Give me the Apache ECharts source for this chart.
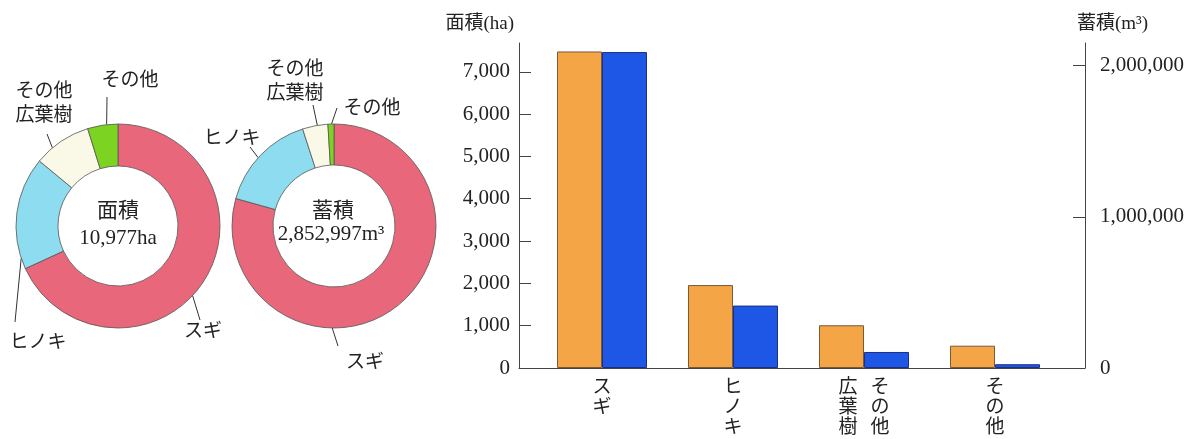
<!DOCTYPE html>
<html><head><meta charset="utf-8">
<script src="https://cdn.jsdelivr.net/npm/echarts@6/dist/echarts.min.js"></script>
<style>html,body{margin:0;padding:0;background:#fff}#c{width:1198px;height:439px}</style>
</head><body><div id="c"></div><script>
// ---- data ----
const categories = ['スギ', 'ヒノキ', 'その他広葉樹', 'その他'];
const areaHa = [7480, 1960, 1010, 527];
const volumeM3 = [2090000, 413000, 106000, 25000];
const areaTicks = [0, 1000, 2000, 3000, 4000, 5000, 6000, 7000];
const volumeTicks = [0, 1000000, 2000000];
const areaCenterText = ['面積', '10,977ha'];
const volumeCenterText = ['蓄積', '2,852,997m³'];
const axisTitles = ['面積(ha)', '蓄積(m³)'];

// ---- styles ----
const serif = "'Liberation Serif','Noto Sans CJK JP'";
const jp = "'Noto Sans CJK JP'";
const pieColors = ['#E8677A', '#8EDCEF', '#FAF8E6', '#7DD321'];
const barColors = ['#F4A545', '#1E56E6'];

function columnsOf(name) {
  if (name.length > 3 && name.indexOf('その他') === 0) return ['その他', name.slice(3)];
  return [name];
}
function verticalLabel(name) {
  const cols = columnsOf(name).slice().reverse(); // leftmost first
  const n = Math.max.apply(null, cols.map(c => c.length));
  const rows = [];
  for (let i = 0; i < n; i++) rows.push(cols.map(c => c[i] || '　').join('   '));
  return rows.join('\n');
}
function pieLabel(name) { return columnsOf(name).join('\n'); }

function pieLayout(cx, cy, R, cfg) {
  return function (p) {
    const c = cfg[p.dataIndex];
    const a = c.a * Math.PI / 180;
    const start = [cx + R * Math.sin(a), cy - R * Math.cos(a)];
    return { x: c.x, y: c.y, align: 'center', verticalAlign: 'middle',
             labelLinePoints: [start, c.end, c.end] };
  };
}
const pie1 = { c: [118, 226], r: [60, 102] };
const pie2 = { c: [334, 226], r: [61, 102] };
const pie1Labels = [
  { a: 133, end: [200, 320], x: 203, y: 330 },
  { a: 251.6, end: [15, 322], x: 38, y: 341 },
  { a: 320, end: [47, 134], x: 44, y: 102 },
  { a: 353.6, end: [107, 97], x: 130, y: 79 }
];
const pie2Labels = [
  { a: 181, end: [338, 346], x: 365, y: 361 },
  { a: 312, end: [250, 147], x: 232, y: 137 },
  { a: 350.6, end: [313, 105], x: 295, y: 80 },
  { a: 358.6, end: [337, 108], x: 372, y: 107 }
];

function pieSeries(values, p, labels) {
  return {
    type: 'pie', center: p.c, radius: p.r, startAngle: 90, clockwise: true,
    avoidLabelOverlap: false, silent: true,
    data: categories.map((n, i) => ({ name: n, value: values[i] })),
    itemStyle: { color: q => pieColors[q.dataIndex], borderColor: '#555', borderWidth: 0.8 },
    label: { show: true, position: 'outside', formatter: q => pieLabel(q.name),
             fontFamily: jp, fontSize: 19, lineHeight: 24, color: '#222' },
    labelLine: { show: true, length: 5, length2: 5, lineStyle: { color: '#333', width: 1 } },
    labelLayout: pieLayout(p.c[0], p.c[1], p.r[1], labels)
  };
}

const gridTop = 43, gridBottom = 71;
const areaMax = 7680, volMax = 2150000;
const axisLineStyle = { color: '#444', width: 1 };

const option = {
  animation: false,
  grid: [
    { left: 519, right: 113, top: gridTop, bottom: gridBottom },
    { left: 536.5, right: 137.5, top: gridTop, bottom: gridBottom }
  ],
  xAxis: [
    { gridIndex: 0, type: 'category', data: categories, axisLine: { lineStyle: axisLineStyle },
      axisTick: { show: false }, axisLabel: { show: false } },
    { gridIndex: 1, type: 'category', data: categories, axisLine: { show: false },
      axisTick: { show: false },
      axisLabel: { interval: 0, margin: 8, formatter: verticalLabel, fontFamily: jp,
                   fontSize: 19, lineHeight: 20, color: '#222', align: 'center', verticalAlign: 'top' } }
  ],
  yAxis: [
    { gridIndex: 0, type: 'value', position: 'left', min: 0, max: areaMax, interval: 1000,
      splitLine: { show: false }, axisLine: { show: true, lineStyle: axisLineStyle },
      axisTick: { show: true, inside: true, length: 12, customValues: areaTicks, lineStyle: axisLineStyle },
      axisLabel: { customValues: areaTicks, margin: 9, fontFamily: serif, fontSize: 21, color: '#222',
                   formatter: v => v.toLocaleString('en-US') } },
    { gridIndex: 0, type: 'value', position: 'right', min: 0, max: volMax, interval: 1000000,
      splitLine: { show: false }, axisLine: { show: true, lineStyle: axisLineStyle },
      axisTick: { show: true, inside: true, length: 12, customValues: volumeTicks, lineStyle: axisLineStyle },
      axisLabel: { customValues: volumeTicks, margin: 15, fontFamily: serif, fontSize: 21, color: '#222',
                   formatter: v => v.toLocaleString('en-US') } },
    { gridIndex: 1, type: 'value', min: 0, max: areaMax, show: false },
    { gridIndex: 1, type: 'value', min: 0, max: volMax, show: false }
  ],
  series: [
    { type: 'bar', xAxisIndex: 1, yAxisIndex: 2, data: areaHa, barWidth: 45, barGap: '0%', silent: true,
      itemStyle: { color: barColors[0], borderColor: '#7a5a3a', borderWidth: 1 } },
    { type: 'bar', xAxisIndex: 1, yAxisIndex: 3, data: volumeM3, barWidth: 45, barGap: '0%', silent: true,
      itemStyle: { color: barColors[1], borderColor: '#1c2f80', borderWidth: 1 } },
    pieSeries(areaHa, pie1, pie1Labels),
    pieSeries(volumeM3, pie2, pie2Labels)
  ],
  graphic: [
    { type: 'text', x: 514, y: 24, style: { text: axisTitles[0], font: "19px " + serif, fill: '#222', textAlign: 'right', textVerticalAlign: 'middle' } },
    { type: 'text', x: 1077, y: 24, style: { text: axisTitles[1], font: "19px " + serif, fill: '#222', textAlign: 'left', textVerticalAlign: 'middle' } },
    { type: 'text', x: 118, y: 211, style: { text: areaCenterText[0], font: "21px " + serif, fill: '#222', textAlign: 'center', textVerticalAlign: 'middle' } },
    { type: 'text', x: 118, y: 238, style: { text: areaCenterText[1], font: "21px " + serif, fill: '#222', textAlign: 'center', textVerticalAlign: 'middle' } },
    { type: 'text', x: 333, y: 211, style: { text: volumeCenterText[0], font: "21px " + serif, fill: '#222', textAlign: 'center', textVerticalAlign: 'middle' } },
    { type: 'text', x: 331, y: 234, style: { text: volumeCenterText[1], font: "21px " + serif, fill: '#222', textAlign: 'center', textVerticalAlign: 'middle' } }
  ]
};
const chart = echarts.init(document.getElementById('c'), null, { renderer: 'canvas' });
chart.setOption(option);
</script></body></html>
